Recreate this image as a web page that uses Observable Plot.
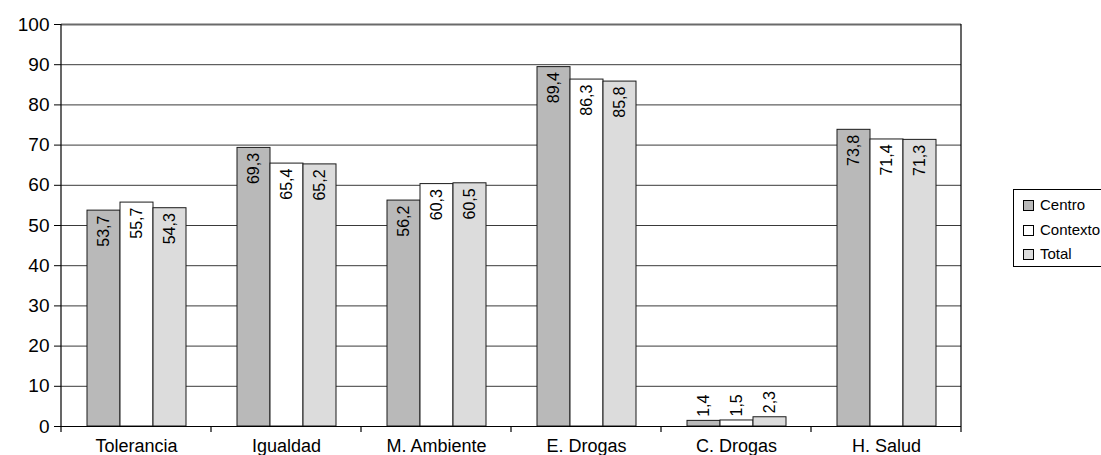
<!DOCTYPE html>
<html>
<head>
<meta charset="utf-8">
<script src="https://cdn.jsdelivr.net/npm/d3@7"></script>
<script src="https://cdn.jsdelivr.net/npm/@observablehq/plot@0.6"></script>
<style>
  html, body { margin: 0; padding: 0; background: #fff; overflow: hidden; width: 1101px; height: 455px; }
  body { position: relative; font-family: "Liberation Sans", Arial, sans-serif; }
  svg { display: block; }
  #legend { position: absolute; left: 1013px; top: 189px; width: 110px; height: 78px; border: 1px solid #000; background: #fff; box-sizing: border-box; font-size: 15px; }
  #legend .item { position: absolute; left: 9px; height: 18px; line-height: 18px; white-space: nowrap; color: #000; }
  #legend .sw { display: inline-block; width: 11px; height: 11px; border: 1px solid #000; box-sizing: border-box; vertical-align: -1px; margin-right: 6px; }
</style>
</head>
<body>
<div id="chart"></div>
<div id="legend"></div>
<script>
const categories = ["Tolerancia", "Igualdad", "M. Ambiente", "E. Drogas", "C. Drogas", "H. Salud"];
const series = ["Centro", "Contexto", "Total"];
const centro   = [53.7, 69.3, 56.2, 89.4, 1.4, 73.8];
const contexto = [55.7, 65.4, 60.3, 86.3, 1.5, 71.4];
const total    = [54.3, 65.2, 60.5, 85.8, 2.3, 71.3];
const yTicks = [0, 10, 20, 30, 40, 50, 60, 70, 80, 90, 100];
const colors = ["#b9b9b9", "#ffffff", "#dcdcdc"];

const values = [centro, contexto, total];
const data = [];
categories.forEach((c, i) => series.forEach((s, j) => data.push({category: c, series: s, value: values[j][i]})));
const fmt = d => d.toFixed(1).replace(".", ",");

const plot = Plot.plot({
  width: 1101,
  height: 455,
  marginLeft: 58,
  marginRight: 138,
  marginTop: 24,
  marginBottom: 29,
  style: {fontFamily: "'Liberation Sans', Arial, sans-serif", fontSize: "18px", color: "#000", background: "#fff"},
  fx: {domain: categories, padding: 0, label: null, axis: "bottom", tickSize: 0, tickPadding: 13},
  x: {domain: series, paddingInner: 0, paddingOuter: 0.77, axis: null},
  y: {domain: [0, 100], ticks: yTicks, label: null, tickSize: 7, tickPadding: 5},
  color: {domain: series, range: colors},
  marks: [
    Plot.ruleY(yTicks.filter(d => d > 0 && d < 100), {stroke: "#3a3a3a", strokeWidth: 1}),
    Plot.ruleY([100], {stroke: "#6a6a6a", strokeWidth: 2}),
    Plot.barY(data, {fx: "category", x: "series", y: "value", fill: "series", stroke: "#1a1a1a", strokeWidth: 1, inset: 0}),
    Plot.ruleY([0], {stroke: "#000", strokeWidth: 1.2}),
    Plot.text(data.filter(d => d.value >= 10), {fx: "category", x: "series", y: "value", text: d => fmt(d.value), rotate: -90, textAnchor: "end", dy: 5, fontSize: 16, fill: "#000"}),
    Plot.text(data.filter(d => d.value < 10), {fx: "category", x: "series", y: "value", text: d => fmt(d.value), rotate: -90, textAnchor: "start", dy: -4, fontSize: 16, fill: "#000"})
  ]
});
document.getElementById("chart").appendChild(plot);

// frame lines and category boundary ticks from the plot's own scales
(function () {
  const svgEl = plot.tagName.toLowerCase() === "svg" ? plot : plot.querySelector("svg");
  const svg = d3.select(svgEl);
  let fxs, ys;
  try { fxs = plot.scale("fx"); ys = plot.scale("y"); } catch (e) {}
  let edges, y0, y100;
  if (fxs && fxs.apply) {
    edges = categories.map(c => fxs.apply(c));
    edges.push(edges[edges.length - 1] + (fxs.bandwidth || (edges[1] - edges[0])));
  } else {
    const b = d3.scaleBand(categories, [58, 1101 - 138]).padding(0);
    edges = categories.map(c => b(c)); edges.push(b.range()[1]);
  }
  if (ys && ys.apply) { y0 = ys.apply(0); y100 = ys.apply(100); }
  else { y0 = 455 - 29; y100 = 24; }
  const g = svg.append("g").attr("stroke", "#000").attr("stroke-width", 1.2);
  edges.forEach((x, i) => {
    const top = (i === 0 || i === edges.length - 1) ? y100 : y0;
    g.append("line").attr("x1", x).attr("x2", x).attr("y1", top).attr("y2", y0 + 6);
  });
  // y-axis labels slightly larger, as in the reference
  const labels = yTicks.map(String);
  svg.selectAll("text").filter(function () {
    return labels.includes(this.textContent.trim()) && this.getBoundingClientRect().right < edges[0];
  }).style("font-size", "19px");
})();

// legend
const legend = document.getElementById("legend");
series.forEach((s, i) => {
  const item = document.createElement("div");
  item.className = "item";
  item.style.top = (6 + i * 24.5) + "px";
  item.innerHTML = `<span class="sw" style="background:${colors[i]}"></span>${s}`;
  legend.appendChild(item);
});
</script>
</body>
</html>
